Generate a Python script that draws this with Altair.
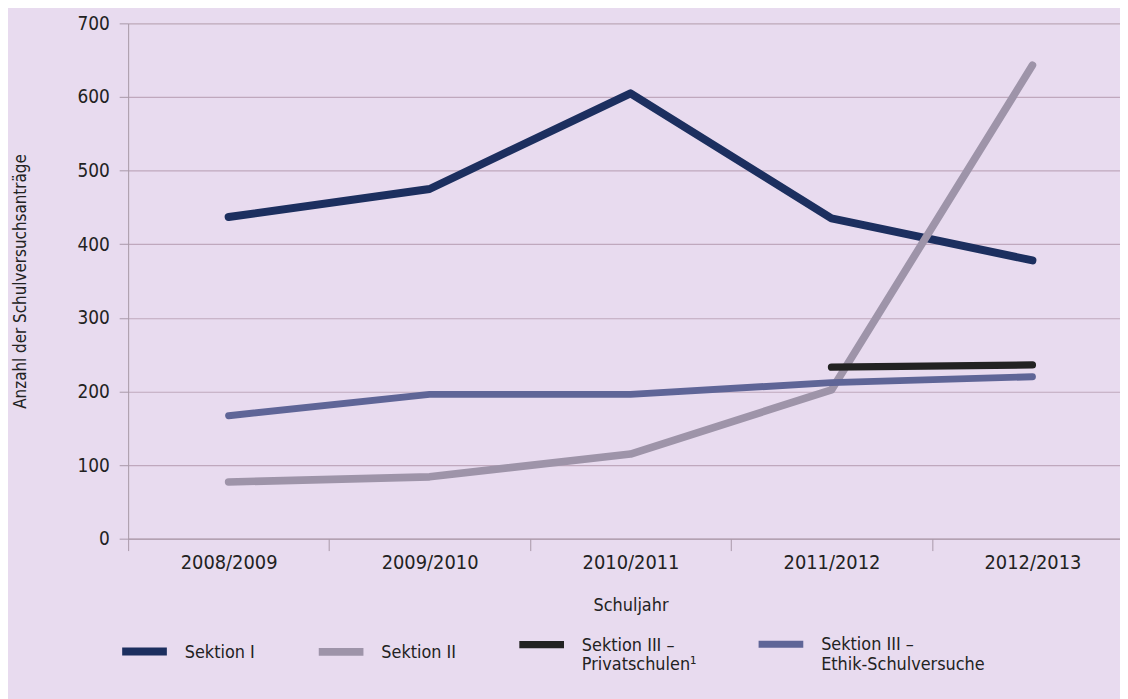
import altair as alt
import pandas as pd

years = ["2008/2009", "2009/2010", "2010/2011", "2011/2012", "2012/2013"]
series_names = [
    "Sektion I",
    "Sektion II",
    "Sektion III – Privatschulen¹",
    "Sektion III – Ethik-Schulversuche",
]
sektion1 = [437, 475, 605, 435, 378]
sektion2 = [77, 84, 115, 202, 643]
privat = [None, None, None, 233, 236]
ethik = [167, 196, 196, 212, 220]
colors = ["#1c2f5f", "#9e94a9", "#222222", "#5f6597"]
widths = [8, 7, 7, 8]

rows = []
for name, vals in zip(series_names, [sektion1, sektion2, privat, ethik]):
    for y, v in zip(years, vals):
        if v is not None:
            rows.append({"Schuljahr": y, "Serie": name, "Wert": v})
df = pd.DataFrame(rows)

FONT = "DejaVu Sans Condensed, Liberation Sans Narrow, sans-serif"
BG = "#e8dbef"
AXC = "#a898a8"
TXT = "#222222"

label_expr = (
    "indexof(datum.label, ' – ') > 0 ? "
    "[substring(datum.label, 0, indexof(datum.label, ' – ') + 2), "
    "substring(datum.label, indexof(datum.label, ' – ') + 3)] : datum.label"
)

x = alt.X(
    "Schuljahr:N",
    sort=years,
    scale=alt.Scale(domain=years, range=[0, 1012], paddingInner=0, paddingOuter=0),
    axis=alt.Axis(
        title="Schuljahr",
        labelAngle=0,
        labelFontSize=20,
        titleFontSize=18,
        titleFontWeight="normal",
        labelPadding=2,
        titlePadding=24,
        tickBand="extent",
        tickSize=12,
        tickColor=AXC,
        domainColor=AXC,
        grid=False,
        labelColor=TXT,
        titleColor=TXT,
    ),
)
y = alt.Y(
    "Wert:Q",
    scale=alt.Scale(domain=[0, 700], nice=False),
    axis=alt.Axis(
        title="Anzahl der Schulversuchsanträge",
        values=[0, 100, 200, 300, 400, 500, 600, 700],
        labelFontSize=19,
        titleFontSize=17,
        titleFontWeight="normal",
        tickSize=9,
        labelPadding=10,
        titlePadding=48,
        tickColor=AXC,
        domainColor=AXC,
        gridColor="#bfa8bd",
        gridWidth=1.2,
        labelColor=TXT,
        titleColor=TXT,
    ),
)

legend = alt.Legend(
    title=None,
    orient="none",
    legendX=-10,
    legendY=605,
    direction="horizontal",
    columns=4,
    gridAlign="each",
    columnPadding=48,
    symbolType="M-1,-0.27H1",
    symbolSize=2025,
    symbolStrokeWidth=8,
    symbolFillColor="transparent",
    labelExpr=label_expr,
    labelBaseline="alphabetic",
    labelFontSize=18,
    labelOffset=14,
    labelLimit=300,
    labelColor=TXT,
    padding=0,
)

color = alt.Color(
    "Serie:N",
    scale=alt.Scale(domain=series_names, range=colors),
    legend=legend,
)

chart = (
    alt.Chart(df)
    .mark_line(strokeCap="round", strokeJoin="round")
    .encode(
        x=x,
        y=y,
        color=color,
        strokeWidth=alt.StrokeWidth(
            "Serie:N", scale=alt.Scale(domain=series_names, range=widths), legend=None
        ),
        order=alt.Order("Schuljahr:N"),
    )
    .properties(
        width=999,
        height=519,
        background=BG,
        autosize=alt.AutoSizeParams(type="none"),
        padding={"left": 121, "top": 13, "right": 0, "bottom": 159},
    )
    .configure_view(stroke=None, fill=BG)
    .configure(font=FONT)
)

chart.save("out.html", embed_options={"renderer": "svg", "actions": False})
